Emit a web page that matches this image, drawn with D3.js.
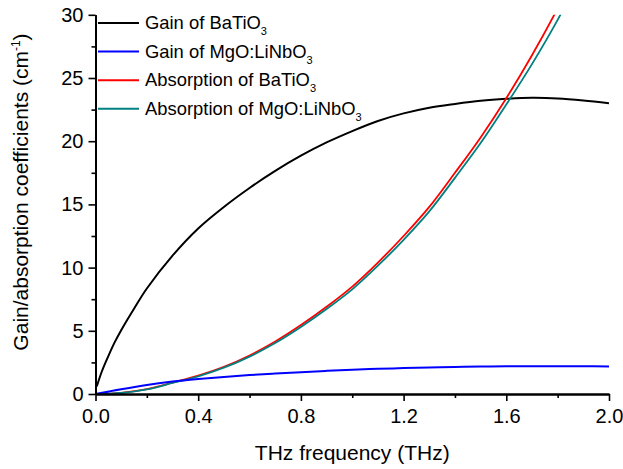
<!DOCTYPE html>
<html>
<head>
<meta charset="utf-8">
<script src="https://cdn.jsdelivr.net/npm/d3@7"></script>
<style>
  html, body { margin: 0; padding: 0; background: #fff; }
  svg { display: block; font-family: "Liberation Sans", Arial, sans-serif; }
</style>
</head>
<body>
<svg id="chart" width="623" height="469"></svg>
<script>
// Frequency grid (THz) shared by three of the curves
const freqTHz = [0, 0.1, 0.2, 0.3, 0.4, 0.5, 0.6, 0.7, 0.8, 0.9, 1.0,
                 1.1, 1.2, 1.3, 1.4, 1.5, 1.6, 1.7, 1.8, 1.9, 2.0];

// Gain of BaTiO3 has its own, denser sampling near zero
const gainBaTiO3Freq = [0.005, 0.025, 0.05, 0.075, 0.1, 0.15, 0.2, 0.3, 0.4, 0.5, 0.6, 0.7,
                        0.8, 0.9, 1.0, 1.1, 1.2, 1.3, 1.4, 1.5, 1.6, 1.7, 1.8, 1.9, 2.0];
const gainBaTiO3 = [0.6, 1.8, 3.0, 4.1, 5.05, 6.75, 8.35, 10.95, 13.1, 14.8, 16.3, 17.65,
                    18.85, 19.9, 20.8, 21.6, 22.2, 22.65, 22.95, 23.2, 23.35, 23.43, 23.38, 23.22, 23.0];

const gainMgOLiNbO3 = [0, 0.38, 0.72, 0.98, 1.18, 1.35, 1.5, 1.62, 1.73, 1.83, 1.92,
                       1.99, 2.05, 2.1, 2.14, 2.17, 2.19, 2.2, 2.2, 2.19, 2.18];

const absBaTiO3 = [0, 0.09, 0.38, 0.9, 1.45, 2.15, 3.05, 4.15, 5.45, 6.9, 8.5,
                   10.4, 12.5, 14.8, 17.5, 20.3, 23.4, 26.8, 30.5, 34.5, 38.8];

const absMgOLiNbO3 = [0, 0.08, 0.36, 0.87, 1.4, 2.08, 2.96, 4.03, 5.3, 6.72, 8.28,
                      10.15, 12.2, 14.45, 17.1, 19.85, 22.9, 26.1, 29.6, 33.5, 37.5];

// Axis ticks
const xMajorTicks = [0, 0.4, 0.8, 1.2, 1.6, 2.0];
const xMinorTicks = [0.2, 0.6, 1.0, 1.4, 1.8];
const yMajorTicks = [0, 5, 10, 15, 20, 25, 30];
const yMinorTicks = [2.5, 7.5, 12.5, 17.5, 22.5, 27.5];

// Legend entries: main text, subscript, colour
const legendItems = [
  { text: "Gain of BaTiO", sub: "3", color: "#000000" },
  { text: "Gain of MgO:LiNbO", sub: "3", color: "#0000ff" },
  { text: "Absorption of BaTiO", sub: "3", color: "#ff0000" },
  { text: "Absorption of MgO:LiNbO", sub: "3", color: "#008080" }
];

const series = [
  { xs: gainBaTiO3Freq, ys: gainBaTiO3, color: "#000000", width: 2 },
  { xs: freqTHz, ys: absBaTiO3, color: "#ff0000", width: 1.8 },
  { xs: freqTHz, ys: absMgOLiNbO3, color: "#008080", width: 1.8 },
  { xs: freqTHz, ys: gainMgOLiNbO3, color: "#0000ff", width: 2 }
];

const svg = d3.select("#chart");
const plot = { left: 95.5, right: 609, top: 14.8, bottom: 394 };

const x = d3.scaleLinear().domain([0, 2.0]).range([plot.left, plot.right]);
const y = d3.scaleLinear().domain([0, 30]).range([plot.bottom, plot.top]);

// Clip region for the curves
svg.append("defs").append("clipPath").attr("id", "plotClip")
  .append("rect")
  .attr("x", plot.left).attr("y", plot.top)
  .attr("width", plot.right - plot.left).attr("height", plot.bottom - plot.top);

// Curves
const line = d3.line().curve(d3.curveCatmullRom.alpha(0.5));
const curves = svg.append("g").attr("clip-path", "url(#plotClip)");
series.forEach(s => {
  const pts = s.xs.map((fx, i) => [x(fx), y(s.ys[i])]);
  curves.append("path")
    .attr("d", line(pts))
    .attr("fill", "none")
    .attr("stroke", s.color)
    .attr("stroke-width", s.width)
    .attr("stroke-linejoin", "round");
});

// Axes
const fontTick = 20;
function styleAxis(g) {
  g.selectAll(".domain").attr("stroke", "#000").attr("stroke-width", 2);
  g.selectAll(".tick line").attr("stroke", "#000").attr("stroke-width", 1.6);
  g.selectAll(".tick text").attr("fill", "#000").style("font-size", fontTick + "px")
    .style("font-family", '"Liberation Sans", Arial, sans-serif');
}

svg.append("g")
  .attr("transform", `translate(0,${plot.bottom})`)
  .call(d3.axisBottom(x).tickValues(xMinorTicks).tickSize(4).tickSizeOuter(0).tickFormat(""))
  .call(styleAxis);
svg.append("g")
  .attr("transform", `translate(0,${plot.bottom})`)
  .call(d3.axisBottom(x).tickValues(xMajorTicks).tickSize(7).tickSizeOuter(0)
        .tickPadding(8).tickFormat(d3.format(".1f")))
  .call(styleAxis);

svg.append("g")
  .attr("transform", `translate(${plot.left},0)`)
  .call(d3.axisLeft(y).tickValues(yMinorTicks).tickSize(4).tickSizeOuter(0).tickFormat(""))
  .call(styleAxis);
svg.append("g")
  .attr("transform", `translate(${plot.left},0)`)
  .call(d3.axisLeft(y).tickValues(yMajorTicks).tickSize(7).tickSizeOuter(0)
        .tickPadding(5).tickFormat(d3.format("d")))
  .call(styleAxis);

// Axis titles
svg.append("text")
  .attr("x", (plot.left + plot.right) / 2)
  .attr("y", 460)
  .attr("text-anchor", "middle")
  .style("font-size", "21px")
  .text("THz frequency (THz)");

const yTitle = svg.append("text")
  .attr("transform", "translate(28,192) rotate(-90)")
  .attr("text-anchor", "middle")
  .style("font-size", "21px");
yTitle.append("tspan").text("Gain/absorption coefficients (cm");
yTitle.append("tspan").attr("dy", -8).style("font-size", "12px").text("-1");
yTitle.append("tspan").attr("dy", 8).text(")");

// Legend
const legend = svg.append("g");
legendItems.forEach((item, i) => {
  const ly = 23 + i * 28.6;
  legend.append("line")
    .attr("x1", 98).attr("x2", 139)
    .attr("y1", ly).attr("y2", ly)
    .attr("stroke", item.color).attr("stroke-width", 2);
  const t = legend.append("text")
    .attr("x", 145).attr("y", ly + 6)
    .style("font-size", "18.4px");
  t.append("tspan").text(item.text);
  t.append("tspan").attr("dy", 6).style("font-size", "11px").text(item.sub);
});
</script>
</body>
</html>
